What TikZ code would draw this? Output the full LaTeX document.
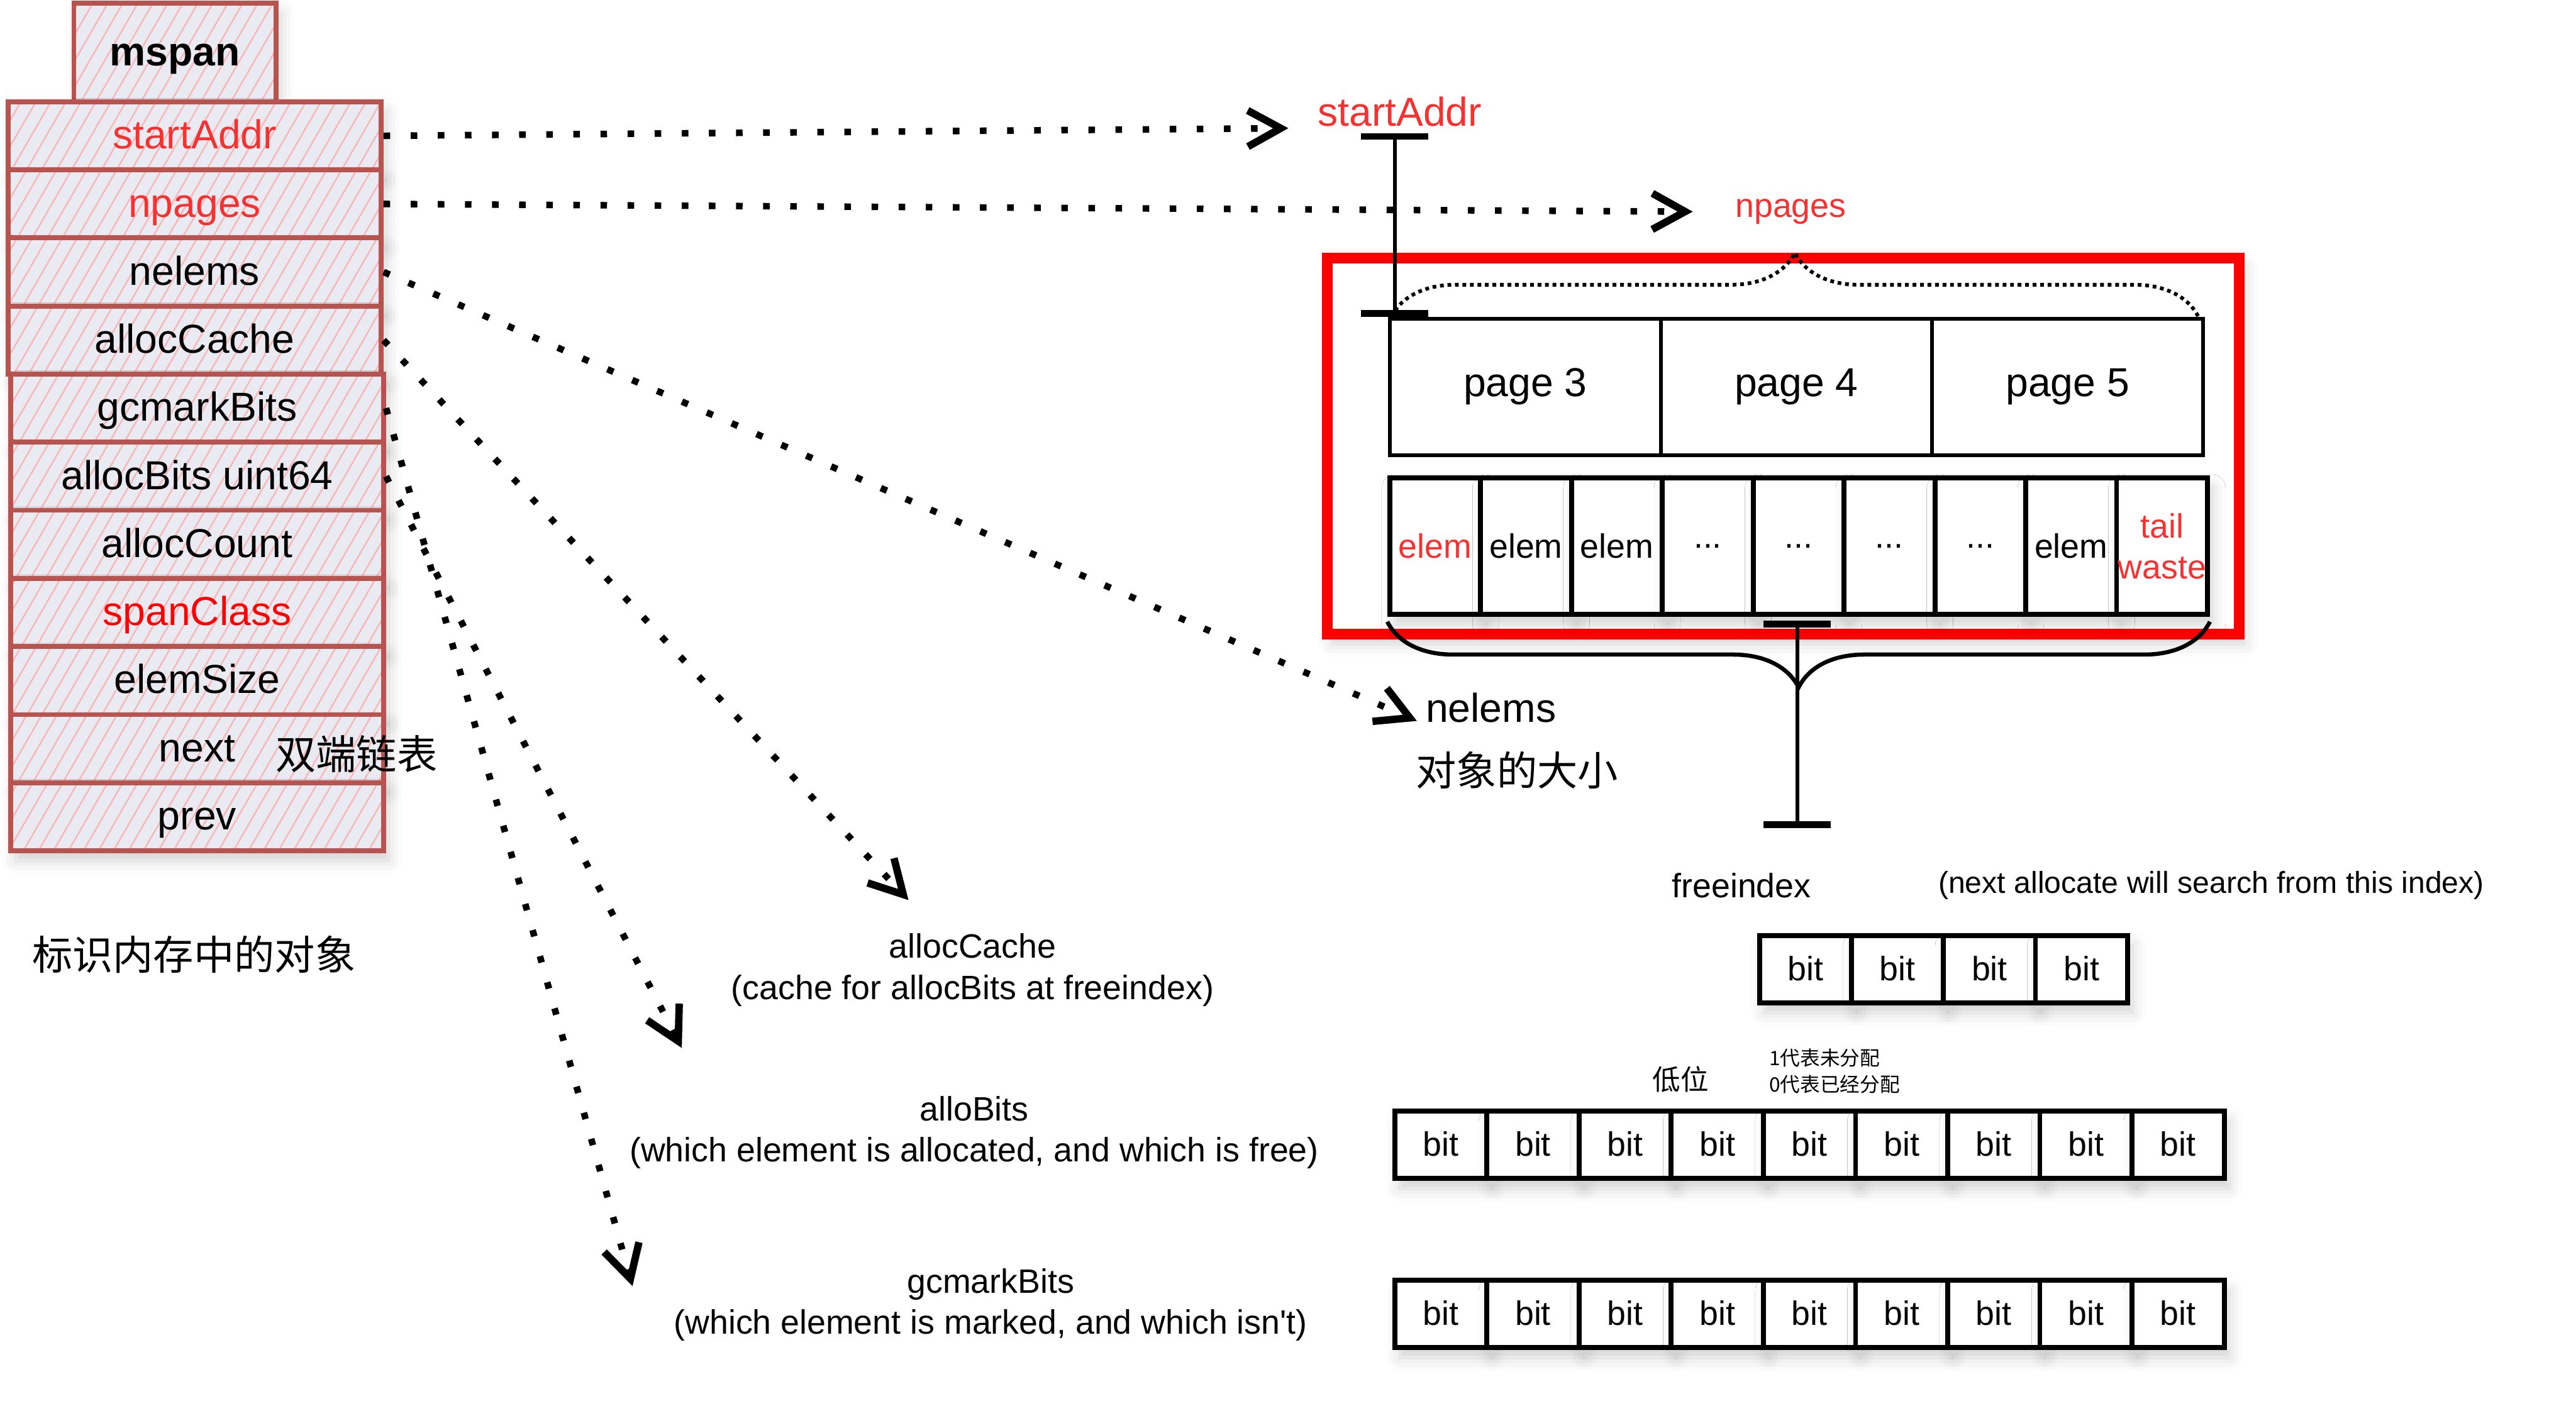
\documentclass[tikz,border=0pt]{standalone}
\usepackage{fontspec}
\setmainfont{Liberation Sans}
\newfontfamily\cjkfont{Noto Sans CJK SC}
\usetikzlibrary{arrows.meta,patterns.meta,decorations.pathreplacing,shadows.blur}

\definecolor{spanedge}{RGB}{184,84,80}
\definecolor{spanfill}{RGB}{234,235,242}
\definecolor{spanhatch}{RGB}{245,185,185}
\definecolor{fieldred}{RGB}{245,50,50}

\newcommand{\fbig}{\fontsize{14}{17}\selectfont}
\newcommand{\fmid}{\fontsize{11.7}{14.2}\selectfont}
\newcommand{\fnote}{\fontsize{10.5}{12.5}\selectfont}
\newcommand{\flow}{\fontsize{9.7}{11}\selectfont}
\newcommand{\ftiny}{\fontsize{6.9}{9.1}\selectfont}

\begin{document}
\begin{tikzpicture}[x=0.2mm, y=-0.2mm, line width=1pt]
\tikzset{
	softshadow/.style={blur shadow={shadow xshift=0.6mm, shadow yshift=-1.2mm, shadow blur radius=1.6mm, shadow opacity=18}},
	spanrow/.style={draw=spanedge, line width=0.6mm, softshadow, preaction={fill=spanfill}, pattern={Lines[angle=60,distance=4.5pt,line width=0.55pt]}, pattern color=spanhatch, minimum width=45.4mm, minimum height=8.3mm, inner sep=0pt, text height=10pt, text depth=1pt, font=\fbig},
	pagecell/.style={draw, fill=white, line width=0.45mm, minimum width=33mm, minimum height=16.6mm, inner sep=0pt, font=\fbig},
	elemcell/.style={draw, fill=white, line width=0.6mm, softshadow, minimum width=11.06mm, minimum height=16.6mm, inner sep=0pt, font=\fmid, align=center},
	bitcell/.style={draw, fill=white, line width=0.6mm, softshadow, minimum width=11.22mm, minimum height=8.2mm, inner sep=0pt, text height=8.4pt, text depth=0.5pt, font=\fmid},
	lbl/.style={inner sep=0pt},
	ptrarrow/.style={-{Straight Barb[length=4mm,width=4.4mm,line width=0.9mm]}, line width=0.8mm, dash pattern=on 0.8mm off 2.5mm},
	ibeam/.style={{Bar[width=8.2mm,line width=0.8mm]}-{Bar[width=8.2mm,line width=0.8mm]}, line width=0.45mm}
}
\useasboundingbox (0,0) rectangle (1568,859);

% mspan struct
\node[spanrow, minimum width=24.6mm, minimum height=12mm, font=\fbig\bfseries] (head) at (106.5,32) {mspan};
\node[spanrow, text=fieldred] (f1) at (118.5,82.7) {startAddr};
\node[spanrow, text=fieldred] (f2) at (118.5,124.2) {npages};
\node[spanrow] (f3) at (118.5,165.6) {nelems};
\node[spanrow] (f4) at (118.5,207.1) {allocCache};
\node[spanrow] (f5) at (120,248.5) {gcmarkBits};
\node[spanrow] (f6) at (120,290) {allocBits uint64};
\node[spanrow] (f7) at (120,331.4) {allocCount};
\node[spanrow, text=red] (f8) at (120,372.9) {spanClass};
\node[spanrow] (f9) at (120,414.3) {elemSize};
\node[spanrow] (f10) at (120,455.8) {next};
\node[spanrow] (f11) at (120,497.2) {prev};
\node[lbl, font={\cjkfont\fbig}] (dlist) at (217,459) {双端链表};
\node[lbl, font={\cjkfont\fbig}] (mark) at (118,581) {标识内存中的对象};

% span memory
\node[draw=red, fill=white, line width=1.3mm, softshadow, minimum width=111mm, minimum height=45.8mm, inner sep=0pt] (frame) at (1085.5,271.5) {};
\node[pagecell] (p3) at (928.5,235.5) {page 3};
\node[pagecell] (p4) at (1093.5,235.5) {page 4};
\node[pagecell] (p5) at (1258.5,235.5) {page 5};

\node[elemcell, text=fieldred] (e1) at (873.6,332.5) {elem};
\node[elemcell] (e2) at (928.9,332.5) {elem};
\node[elemcell] (e3) at (984.2,332.5) {elem};
\node[elemcell] (e4) at (1039.5,332.5) {...};
\node[elemcell] (e5) at (1094.8,332.5) {...};
\node[elemcell] (e6) at (1150.1,332.5) {...};
\node[elemcell] (e7) at (1205.4,332.5) {...};
\node[elemcell] (e8) at (1260.7,332.5) {elem};
\node[elemcell, text=fieldred] (e9) at (1316,332.5) {tail\\waste};

\node[lbl, font=\fbig, text=fieldred] (lsa) at (852,68) {startAddr};
\node[lbl, font=\fmid, text=fieldred] (lnp) at (1090,129) {npages};
\node[lbl, font=\fbig, anchor=west] (lne) at (867,431) {nelems};
\node[lbl, font={\cjkfont\fbig}, anchor=west] (lsize) at (861,469) {对象的大小};

\coordinate (satop) at (849,81);
\draw[ibeam] (satop) -- (satop |- p3.north);
\draw[decorate, decoration={brace, amplitude=7.8mm}, line width=0.45mm, dash pattern=on 1.3pt off 1.3pt] ([xshift=0.4mm]p3.north west) -- ([xshift=-0.8mm]p5.north east);
\draw[decorate, decoration={brace, mirror, amplitude=8mm}, line width=0.5mm] ([yshift=-0.6mm]e1.south west) -- ([yshift=-0.6mm]e9.south east);
\coordinate (fitop) at (1094,378);
\coordinate (fibot) at (1094,504);
\draw[ibeam] (fitop) -- (fibot);

% bitmaps
\node[lbl, font=\fmid] (lfree) at (1060,539) {freeindex};
\node[lbl, font=\fnote] (lfreenote) at (1346,539) {(next allocate will search from this index)};
\foreach \i in {0,...,3}
	\node[bitcell] (fb\i) at (1099+56*\i,590) {bit};
\node[lbl, font={\cjkfont\flow}] (llow) at (1023,657) {低位};
\node[lbl, font={\cjkfont\ftiny}, align=left, anchor=west] (lbitnote) at (1076,652) {1代表未分配\\0代表已经分配};
\foreach \i in {0,...,8}
	\node[bitcell] (ab\i) at (877+56.1*\i,697) {bit};
\foreach \i in {0,...,8}
	\node[bitcell] (gb\i) at (877+56.1*\i,800) {bit};

\node[lbl, font=\fmid, align=center] (lcache) at (592,590.5) {allocCache\\(cache for allocBits at freeindex)};
\node[lbl, font=\fmid, align=center] (lalloc) at (593,689.5) {alloBits\\(which element is allocated, and which is free)};
\node[lbl, font=\fmid, align=center] (lmarkbits) at (603,794.5) {gcmarkBits\\(which element is marked, and which isn\textquotesingle t)};

% pointers out of mspan
\coordinate (cacheend) at (553,548);
\coordinate (allocend) at (415,638);
\coordinate (markend) at (385,783);
\draw[ptrarrow, shorten >=3.4mm] (f1.east) -- (lsa.south west);
\draw[ptrarrow, shorten >=5mm] (f2.east) -- (lnp.west);
\draw[ptrarrow, shorten >=1mm] (f3.east) -- (lne.south west);
\draw[ptrarrow] (f4.east) -- (cacheend);
\draw[ptrarrow] (f6.east) -- (allocend);
\draw[ptrarrow] (f5.east) -- (markend);

\end{tikzpicture}
\end{document}
